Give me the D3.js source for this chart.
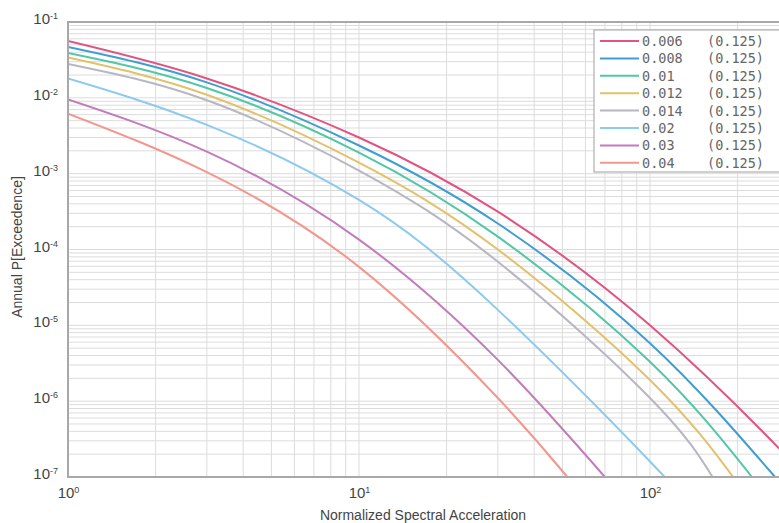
<!DOCTYPE html>
<html>
<head>
<meta charset="utf-8">
<script src="https://cdn.jsdelivr.net/npm/d3@7"></script>
<style>
  body { margin: 0; background: #fff; overflow: hidden; }
  svg { display: block; font-family: "Liberation Sans", Arial, sans-serif; }
</style>
</head>
<body>
<div id="container"></div>
<script>
/* CONSTANTS AND GLOBALS */
const width = 779,
  height = 523,
  margin = { top: 22, bottom: 46, left: 68 };

const decadePx = 291;

// DATA: legend labels, colours and [Sa, P] points
const rates = ["0.006", "0.008", "0.01", "0.012", "0.014", "0.02", "0.03", "0.04"];
const sigma = "(0.125)";
const colors = ["#e05580", "#3f9dd1", "#52c7a5", "#e2c16a", "#b7b6c2", "#8ccaee", "#c27cba", "#f3978e"];

const p006 = [[1, 5.6e-2], [3, 1.8e-2], [10, 3.0e-3], [30, 3.15e-4], [100, 1.0e-5], [277, 2.4e-7], [300, 1.6e-7]];
const p008 = [[1, 4.7e-2], [3, 1.6e-2], [10, 2.35e-3], [30, 2.2e-4], [100, 5.8e-6], [269, 1e-7]];
const p010 = [[1, 3.9e-2], [3, 1.35e-2], [10, 1.9e-3], [30, 1.48e-4], [100, 3.3e-6], [224, 1e-7]];
const p012 = [[1, 3.4e-2], [3, 1.1e-2], [10, 1.4e-3], [30, 1.0e-4], [100, 1.9e-6], [193, 1e-7]];
const p014 = [[1, 2.8e-2], [3, 9.3e-3], [10, 1.1e-3], [30, 6.9e-5], [100, 1.1e-6], [164, 1e-7]];
const p020 = [[1, 1.8e-2], [3, 4.4e-3], [10, 4.5e-4], [30, 1.6e-5], [100, 1.6e-7], [110, 1e-7]];
const p030 = [[1, 9.5e-3], [3, 1.95e-3], [10, 1.35e-4], [30, 3.5e-6], [70, 1e-7]];
const p040 = [[1, 6.2e-3], [3, 1.05e-3], [10, 5.9e-5], [30, 1.1e-6], [52, 1e-7]];
const series = [p006, p008, p010, p012, p014, p020, p030, p040];

const xDecades = [1, 10, 100];
const yDecades = [1e-7, 1e-6, 1e-5, 1e-4, 1e-3, 1e-2, 1e-1];

// SCALES
const xScale = d3.scaleLog()
  .domain([1, Math.pow(10, 2.5)])
  .range([margin.left, margin.left + decadePx * 2.5]);

const yScale = d3.scaleLog()
  .domain([1e-7, 1e-1])
  .range([height - margin.bottom, margin.top]);

// CREATE SVG CONTAINER
const svg = d3.select("#container")
  .append("svg")
  .attr("width", width)
  .attr("height", height);

svg.append("clipPath").attr("id", "plot")
  .append("rect")
  .attr("x", margin.left).attr("y", margin.top - 1)
  .attr("width", width - margin.left).attr("height", height - margin.bottom - margin.top + 2);

// GRID (major + minor)
const xMinor = [];
[1, 10, 100].forEach(d => { for (let k = 1; k < 10; k++) if (d * k <= 320) xMinor.push(d * k); });
const yMinor = [];
yDecades.slice(0, -1).forEach(d => { for (let k = 1; k < 10; k++) yMinor.push(d * k); });

const grid = svg.append("g").attr("clip-path", "url(#plot)");
grid.selectAll(".gx").data(xMinor).join("line")
  .attr("x1", d => xScale(d)).attr("x2", d => xScale(d))
  .attr("y1", margin.top).attr("y2", height - margin.bottom)
  .attr("stroke", "#dcdcdc").attr("stroke-width", 1);
grid.selectAll(".gy").data(yMinor).join("line")
  .attr("x1", margin.left).attr("x2", width)
  .attr("y1", d => yScale(d)).attr("y2", d => yScale(d))
  .attr("stroke", "#dcdcdc").attr("stroke-width", 1);

// LINES
const line = d3.line()
  .x(d => xScale(d[0]))
  .y(d => yScale(d[1]))
  .curve(d3.curveNatural);

const plot = svg.append("g").attr("clip-path", "url(#plot)");
plot.selectAll(".curve").data(series).join("path")
  .attr("fill", "none")
  .attr("stroke", (d, i) => colors[i])
  .attr("stroke-width", 2)
  .attr("d", line);

// FRAME
svg.append("path")
  .attr("d", `M${width},${margin.top}H${margin.left}V${height - margin.bottom}H${width}`)
  .attr("fill", "none")
  .attr("stroke", "#a8a8a8")
  .attr("stroke-width", 2);

// AXES (labels as 10^n)
function powLabel(sel) {
  sel.each(function (d) {
    const t = d3.select(this).text("");
    t.append("tspan").text("10");
    t.append("tspan").attr("dy", "-0.55em").attr("font-size", "9px").text(Math.round(Math.log10(d)));
  });
}

const xAxis = d3.axisBottom(xScale).tickValues(xDecades).tickSize(0).tickPadding(10);
svg.append("g")
  .attr("transform", `translate(0, ${height - margin.bottom})`)
  .call(xAxis)
  .call(g => g.select(".domain").remove())
  .call(g => g.selectAll("text")
    .attr("font-size", "15px").attr("fill", "#444").attr("font-family", "Liberation Sans, Arial, sans-serif")
    .call(powLabel));

const yAxis = d3.axisLeft(yScale).tickValues(yDecades).tickSize(0).tickPadding(10);
svg.append("g")
  .attr("transform", `translate(${margin.left}, 0)`)
  .call(yAxis)
  .call(g => g.select(".domain").remove())
  .call(g => g.selectAll("text")
    .attr("font-size", "15px").attr("fill", "#444").attr("font-family", "Liberation Sans, Arial, sans-serif")
    .attr("dy", "0.1em")
    .call(powLabel));

// AXIS TITLES
svg.append("text")
  .attr("x", 423)
  .attr("y", height - 3)
  .style("text-anchor", "middle")
  .attr("font-size", "14px")
  .attr("fill", "#444")
  .text("Normalized Spectral Acceleration");

svg.append("text")
  .attr("x", -247)
  .attr("y", 22)
  .attr("transform", "rotate(-90)")
  .style("text-anchor", "middle")
  .attr("font-size", "14px")
  .attr("fill", "#444")
  .text("Annual P[Exceedence]");

// LEGEND
const legend = svg.append("g").attr("transform", "translate(594, 30)");
legend.append("rect")
  .attr("width", 200).attr("height", 142)
  .attr("fill", "#fff").attr("stroke", "#b0b0b0").attr("stroke-width", 1.2);

const rows = legend.selectAll(".row").data(rates).join("g")
  .attr("transform", (d, i) => `translate(0, ${11 + i * 17.4})`);
rows.append("line")
  .attr("x1", 6).attr("x2", 45)
  .attr("stroke", (d, i) => colors[i]).attr("stroke-width", 2);
rows.append("text")
  .attr("x", 48).attr("y", 5)
  .attr("font-family", "DejaVu Sans Mono, monospace")
  .attr("font-size", "13.5px")
  .attr("fill", "#666")
  .style("white-space", "pre")
  .text(d => d.padEnd(8, " ") + sigma);
</script>
</body>
</html>
